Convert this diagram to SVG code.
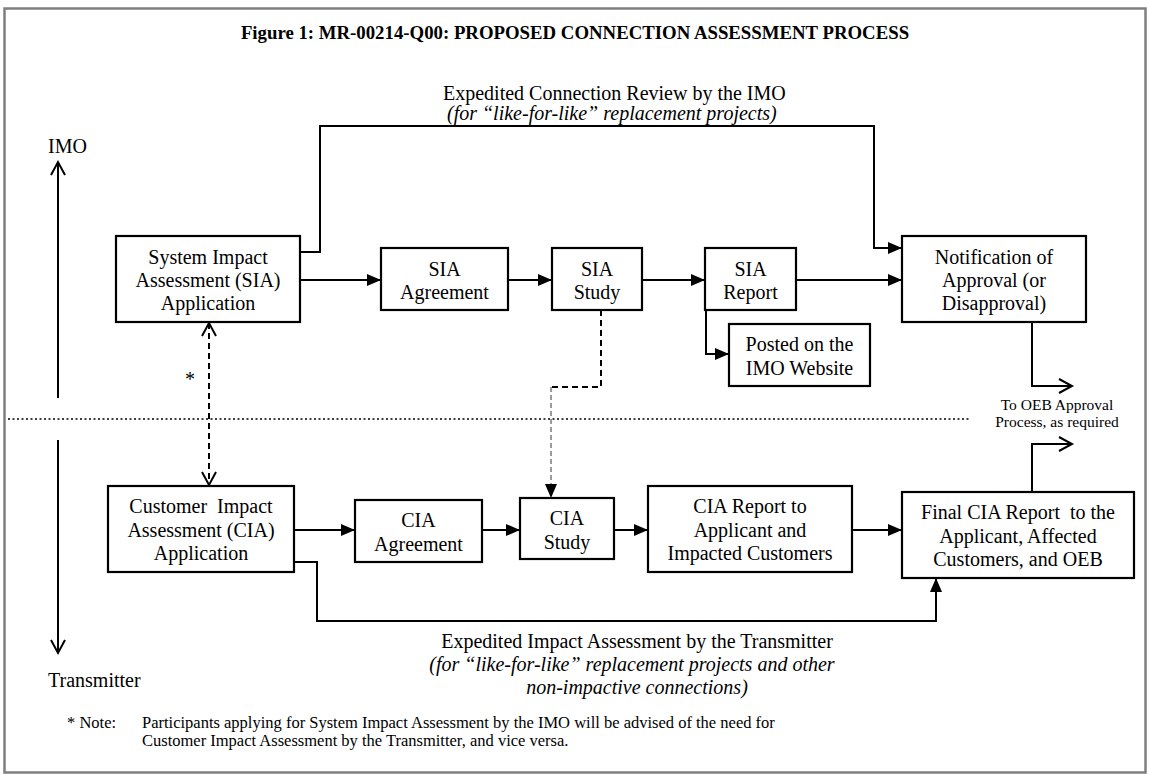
<svg xmlns="http://www.w3.org/2000/svg" width="1149" height="775" viewBox="0 0 1149 775">
<defs>
<style>
.t{font-family:"Liberation Serif","Times New Roman",serif;font-size:20px;fill:#000;text-anchor:middle;white-space:pre}
.s{font-family:"Liberation Serif","Times New Roman",serif;fill:#000;white-space:pre}
.i{font-style:italic}
.box{fill:#fff;stroke:#000;stroke-width:2.2}
.ln{fill:none;stroke:#000;stroke-width:2}
.dash{fill:none;stroke:#000;stroke-width:2;stroke-dasharray:6 4}
.gdash{fill:none;stroke:#666;stroke-width:1.3;stroke-dasharray:5 3}
.dot{fill:none;stroke:#000;stroke-width:1.5;stroke-dasharray:2 2.5}
</style>
<marker id="af" markerUnits="userSpaceOnUse" markerWidth="14" markerHeight="12" refX="14" refY="6" orient="auto" overflow="visible">
<path d="M0,0 L14,6 L0,12 z" fill="#000"/>
</marker>
<marker id="ao" markerUnits="userSpaceOnUse" markerWidth="14" markerHeight="14" refX="13" refY="7" orient="auto-start-reverse" overflow="visible">
<path d="M0,0 L13,7 L0,14" fill="none" stroke="#000" stroke-width="2"/>
</marker>
</defs>
<rect x="4.5" y="8.5" width="1141" height="764" fill="#fff" stroke="#7f7f7f" stroke-width="2.5"/>
<text class="s" x="575" y="39" font-size="18.8" font-weight="bold" text-anchor="middle">Figure 1: MR-00214-Q00: PROPOSED CONNECTION ASSESSMENT PROCESS</text>
<text class="s" x="443" y="100" font-size="20">Expedited Connection Review by the IMO</text>
<text class="s i" x="447" y="120" font-size="20">(for “like-for-like” replacement projects)</text>
<text class="s" x="48" y="153" font-size="20">IMO</text>
<text class="s" x="48" y="687" font-size="20">Transmitter</text>
<text class="s" x="190" y="386" font-size="20" text-anchor="middle">*</text>
<text class="t" x="637" y="648">Expedited Impact Assessment by the Transmitter</text>
<text class="t i" x="632" y="671">(for “like-for-like” replacement projects and other</text>
<text class="t i" x="637" y="694">non-impactive connections)</text>
<text class="s" x="1057" y="410" font-size="15.5" text-anchor="middle">To OEB Approval</text>
<text class="s" x="1057" y="427" font-size="15.5" text-anchor="middle">Process, as required</text>
<text class="s" x="67" y="728" font-size="16.5">* Note:</text>
<text class="s" x="142" y="728" font-size="16.5">Participants applying for System Impact Assessment by the IMO will be advised of the need for</text>
<text class="s" x="142" y="746" font-size="16.5">Customer Impact Assessment by the Transmitter, and vice versa.</text>

<g id="connectors">
<line class="ln" x1="58" y1="398" x2="58" y2="162" marker-end="url(#ao)"/>
<line class="ln" x1="58" y1="440" x2="58" y2="653" marker-end="url(#ao)"/>
<line class="dot" x1="8" y1="419" x2="970" y2="419"/>
<path class="ln" d="M300,252 H320 V126 H874 V248 H902" marker-end="url(#af)"/>
<line class="ln" x1="300" y1="280" x2="381" y2="280" marker-end="url(#af)"/>
<line class="ln" x1="508" y1="280" x2="552" y2="280" marker-end="url(#af)"/>
<line class="ln" x1="642" y1="280" x2="705" y2="280" marker-end="url(#af)"/>
<line class="ln" x1="796" y1="280" x2="902" y2="280" marker-end="url(#af)"/>
<path class="ln" d="M706,310 V354 H729" marker-end="url(#af)"/>
<path class="dash" d="M601,310 V387 H551"/>
<line class="gdash" x1="551" y1="387" x2="551" y2="498" marker-end="url(#af)"/>
<line class="dash" x1="209" y1="323" x2="209" y2="485" marker-start="url(#ao)" marker-end="url(#ao)"/>
<line class="ln" x1="294" y1="530" x2="355" y2="530" marker-end="url(#af)"/>
<line class="ln" x1="482" y1="530" x2="520" y2="530" marker-end="url(#af)"/>
<line class="ln" x1="614" y1="530" x2="648" y2="530" marker-end="url(#af)"/>
<line class="ln" x1="852" y1="530" x2="902" y2="530" marker-end="url(#af)"/>
<path class="ln" d="M294,562 H317 V621 H936 V578" marker-end="url(#af)"/>
<path class="ln" d="M1032,322 V386 H1072" marker-end="url(#ao)"/>
<path class="ln" d="M1032,492 V444 H1072" marker-end="url(#ao)"/>
</g>

<g id="sia-application">
<rect class="box" x="116" y="236" width="184" height="86"/>
<text class="t" x="208" y="264">System Impact</text>
<text class="t" x="208" y="287">Assessment (SIA)</text>
<text class="t" x="208" y="310">Application</text>
</g>
<g id="sia-agreement">
<rect class="box" x="381" y="248" width="127" height="62"/>
<text class="t" x="444.5" y="276">SIA</text>
<text class="t" x="444.5" y="299">Agreement</text>
</g>
<g id="sia-study">
<rect class="box" x="552" y="248" width="90" height="62"/>
<text class="t" x="597" y="276">SIA</text>
<text class="t" x="597" y="299">Study</text>
</g>
<g id="sia-report">
<rect class="box" x="705" y="248" width="91" height="62"/>
<text class="t" x="750.5" y="276">SIA</text>
<text class="t" x="750.5" y="299">Report</text>
</g>
<g id="posted">
<rect class="box" x="729" y="324" width="141" height="62"/>
<text class="t" x="799.5" y="351">Posted on the</text>
<text class="t" x="799.5" y="375">IMO Website</text>
</g>
<g id="notification">
<rect class="box" x="902" y="236" width="184" height="86"/>
<text class="t" x="994" y="264">Notification of</text>
<text class="t" x="994" y="287">Approval (or</text>
<text class="t" x="994" y="310">Disapproval)</text>
</g>
<g id="cia-application">
<rect class="box" x="108" y="486" width="186" height="86"/>
<text class="t" x="201" y="513">Customer  Impact</text>
<text class="t" x="201" y="537">Assessment (CIA)</text>
<text class="t" x="201" y="560">Application</text>
</g>
<g id="cia-agreement">
<rect class="box" x="355" y="500" width="127" height="62"/>
<text class="t" x="418.5" y="527">CIA</text>
<text class="t" x="418.5" y="551">Agreement</text>
</g>
<g id="cia-study">
<rect class="box" x="520" y="498" width="94" height="61"/>
<text class="t" x="567" y="525">CIA</text>
<text class="t" x="567" y="549">Study</text>
</g>
<g id="cia-report">
<rect class="box" x="648" y="486" width="204" height="86"/>
<text class="t" x="750" y="513">CIA Report to</text>
<text class="t" x="750" y="537">Applicant and</text>
<text class="t" x="750" y="560">Impacted Customers</text>
</g>
<g id="final-cia">
<rect class="box" x="902" y="492" width="232" height="86"/>
<text class="t" x="1018" y="519">Final CIA Report  to the</text>
<text class="t" x="1018" y="543">Applicant, Affected</text>
<text class="t" x="1018" y="566">Customers, and OEB</text>
</g>
</svg>
